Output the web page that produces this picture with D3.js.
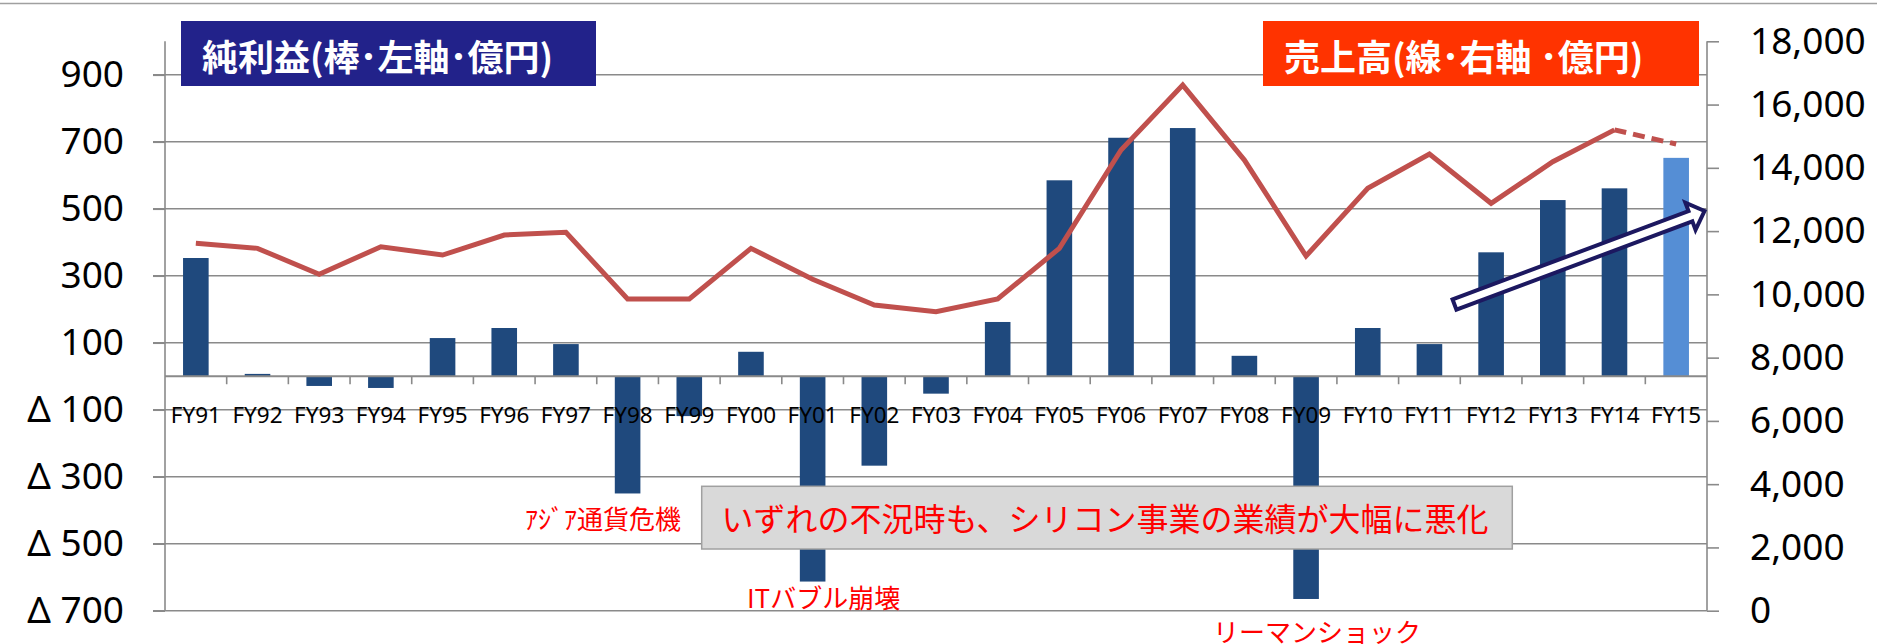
<!DOCTYPE html>
<html>
<head>
<meta charset="utf-8">
<script src="https://cdn.jsdelivr.net/npm/d3@7"></script>
<style>
  html, body { margin: 0; padding: 0; background: #ffffff; }
  svg { display: block; }
</style>
</head>
<body>
<svg id="chart" width="1877" height="644"></svg>
<script>
// ---------------- data ----------------
const categories = ["FY91","FY92","FY93","FY94","FY95","FY96","FY97","FY98","FY99","FY00",
  "FY01","FY02","FY03","FY04","FY05","FY06","FY07","FY08","FY09","FY10",
  "FY11","FY12","FY13","FY14","FY15"];
// 純利益 (億円, left axis, bars)
const netIncome = [353, 7, -29, -35, 114, 144, 96, -350, -119, 73,
  -613, -267, -52, 162, 585, 712, 741, 61, -665, 144,
  96, 370, 526, 561, 652];
// 売上高 (億円, right axis, line)
const sales = [11614, 11455, 10633, 11506, 11244, 11876, 11961, 9853, 9853, 11455,
  10476, 9663, 9451, 9853, 11455, 14563, 16617, 14246, 11212, 13352,
  14436, 12878, 14193, 15200, 14752];
const forecastCategory = "FY15";
const leftTicks = [-700, -500, -300, -100, 100, 300, 500, 700, 900];
const rightTicks = [0, 2000, 4000, 6000, 8000, 10000, 12000, 14000, 16000, 18000];
const leftTitle = "純利益(棒･左軸･億円)";
const rightTitle = "売上高(線･右軸 ･億円)";
const noteText = "いずれの不況時も、シリコン事業の業績が大幅に悪化";
const events = [
  {text: "ｱｼﾞｱ通貨危機", x: 525, y: 517.5},
  {text: "ITバブル崩壊", x: 747, y: 596},
  {text: "リーマンショック", x: 1213, y: 630.5}
];

// ---------------- layout ----------------
const W = 1877, H = 644;
const plot = {left: 165, right: 1707, top: 41.3, bottom: 610.7};
const gridColor = "#8a8a8a";
const barColor = "#1f497d", barColorForecast = "#558ed5", lineColor = "#c0504d";
const latinFont = "'Noto Sans', 'DejaVu Sans', sans-serif";
const jpFont = "'Noto Sans CJK JP', 'Noto Sans', sans-serif";

const svg = d3.select("#chart");

const x = d3.scaleBand().domain(categories).range([plot.left, plot.right])
  .paddingInner(0.585).paddingOuter(0.2925);
const yL = d3.scaleLinear().domain([-700, 1000]).range([plot.bottom, plot.top]);
const yR = d3.scaleLinear().domain([0, 18000]).range([plot.bottom, plot.top]);
const cx = c => x(c) + x.bandwidth() / 2;

// top border
svg.append("line").attr("x1", 0).attr("x2", W).attr("y1", 3.5).attr("y2", 3.5)
  .attr("stroke", "#a0a0a0").attr("stroke-width", 1.5);

// gridlines (left axis ticks)
svg.append("g").selectAll("line").data(leftTicks).join("line")
  .attr("x1", plot.left - 12).attr("x2", plot.right)
  .attr("y1", d => yL(d)).attr("y2", d => yL(d))
  .attr("stroke", gridColor).attr("stroke-width", 1.6);

// left axis
const leftAxis = d3.axisLeft(yL).tickValues(leftTicks).tickSize(12).tickPadding(29)
  .tickFormat(d => d < 0 ? "Δ " + Math.abs(d) : String(d));
const gL = svg.append("g").attr("transform", `translate(${plot.left},0)`).call(leftAxis);
gL.select(".domain").remove();
gL.selectAll(".tick line").attr("stroke", gridColor).attr("stroke-width", 1.6);
gL.selectAll(".tick text").attr("font-family", latinFont).attr("font-size", 37)
  .attr("fill", "#000");
svg.append("line").attr("x1", plot.left).attr("x2", plot.left)
  .attr("y1", plot.top).attr("y2", plot.bottom)
  .attr("stroke", gridColor).attr("stroke-width", 1.6);

// right axis
const rightAxis = d3.axisRight(yR).tickValues(rightTicks).tickSize(12).tickPadding(31)
  .tickFormat(d3.format(","));
const gR = svg.append("g").attr("transform", `translate(${plot.right},0)`).call(rightAxis);
gR.select(".domain").remove();
gR.selectAll(".tick line").attr("stroke", gridColor).attr("stroke-width", 1.6);
gR.selectAll(".tick text").attr("font-family", latinFont).attr("font-size", 37)
  .attr("fill", "#000");
svg.append("line").attr("x1", plot.right).attr("x2", plot.right)
  .attr("y1", plot.top).attr("y2", plot.bottom)
  .attr("stroke", gridColor).attr("stroke-width", 1.6);

// bars
svg.append("g").selectAll("rect").data(categories).join("rect")
  .attr("x", c => x(c))
  .attr("width", x.bandwidth())
  .attr("y", (c, i) => yL(Math.max(0, netIncome[i])))
  .attr("height", (c, i) => Math.abs(yL(netIncome[i]) - yL(0)))
  .attr("fill", c => c === forecastCategory ? barColorForecast : barColor);

// zero (category) axis line + ticks
svg.append("line").attr("x1", plot.left).attr("x2", plot.right)
  .attr("y1", yL(0)).attr("y2", yL(0))
  .attr("stroke", gridColor).attr("stroke-width", 1.8);
svg.append("g").selectAll("line").data(categories.slice(1)).join("line")
  .attr("x1", c => x(c) - x.step() * x.paddingInner() / 2)
  .attr("x2", c => x(c) - x.step() * x.paddingInner() / 2)
  .attr("y1", yL(0)).attr("y2", yL(0) + 8)
  .attr("stroke", gridColor).attr("stroke-width", 1.6);

// category labels
svg.append("g").selectAll("text").data(categories).join("text")
  .attr("x", c => cx(c)).attr("y", 422.5)
  .attr("text-anchor", "middle")
  .attr("font-family", latinFont).attr("font-size", 22.5).attr("fill", "#000")
  .text(c => c);

// sales line
const pts = categories.map((c, i) => [cx(c), yR(sales[i])]);
const fi = categories.indexOf(forecastCategory);
const lineGen = d3.line();
svg.append("path").attr("d", lineGen(pts.slice(0, fi)))
  .attr("fill", "none").attr("stroke", lineColor).attr("stroke-width", 5)
  .attr("stroke-linejoin", "miter").attr("stroke-miterlimit", 3);
svg.append("path").attr("d", lineGen(pts.slice(fi - 1, fi + 1)))
  .attr("fill", "none").attr("stroke", lineColor).attr("stroke-width", 5)
  .attr("stroke-dasharray", "12,7");

// title boxes
function titleBox(x0, x1, fill, text, tx) {
  svg.append("rect").attr("x", x0).attr("y", 21).attr("width", x1 - x0).attr("height", 65)
    .attr("fill", fill);
  svg.append("text").attr("x", tx).attr("y", 55)
    .attr("dominant-baseline", "central")
    .attr("font-family", jpFont).attr("font-size", 36).attr("font-weight", "bold")
    .attr("fill", "#fff").text(text);
}
titleBox(181, 596, "#22228a", leftTitle, 202);
titleBox(1263, 1699, "#ff3300", rightTitle, 1284);

// event annotations
svg.append("g").selectAll("text").data(events).join("text")
  .attr("x", d => d.x).attr("y", d => d.y)
  .attr("dominant-baseline", "central")
  .attr("font-family", jpFont).attr("font-size", 26).attr("fill", "#ff0000")
  .text(d => d.text);

// grey note box
svg.append("rect").attr("x", 701.7).attr("y", 486.3).attr("width", 810.6).attr("height", 62.7)
  .attr("fill", "#d9d9d9").attr("stroke", "#a0a0a0").attr("stroke-width", 1.5);
svg.append("text").attr("x", 721.5).attr("y", 517)
  .attr("dominant-baseline", "central")
  .attr("font-family", jpFont).attr("font-size", 32).attr("fill", "#ff0000")
  .text(noteText);

// trend arrow (outlined block arrow)
const tail = [1454.5, 304.5], tip = [1704.5, 211];
const L = Math.hypot(tip[0] - tail[0], tip[1] - tail[1]);
const ang = Math.atan2(tip[1] - tail[1], tip[0] - tail[0]) * 180 / Math.PI;
const hs = 5.5, hh = 14.5, hl = 15;
const arrowPts = [[0, -hs], [L - hl, -hs], [L - hl, -hh], [L, 0], [L - hl, hh], [L - hl, hs], [0, hs]];
svg.append("polygon")
  .attr("points", arrowPts.map(p => p.join(",")).join(" "))
  .attr("transform", `translate(${tail[0]},${tail[1]}) rotate(${ang})`)
  .attr("fill", "#ffffff").attr("stroke", "#1c1860").attr("stroke-width", 4)
  .attr("stroke-linejoin", "miter");
</script>
</body>
</html>
